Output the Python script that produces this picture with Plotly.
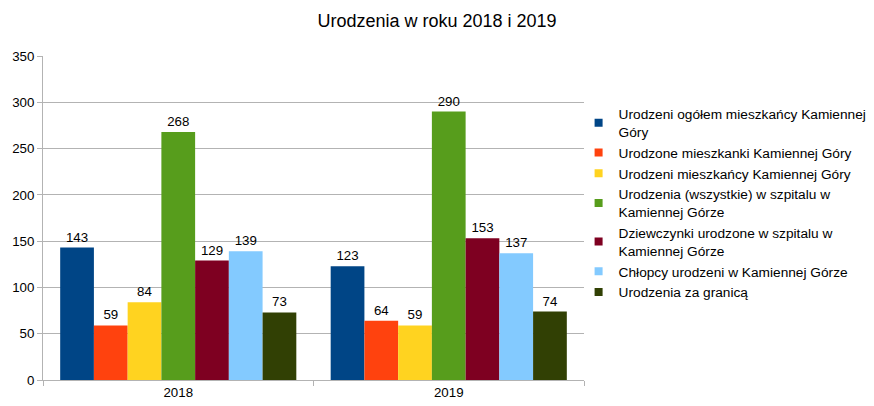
import plotly.graph_objects as go

years = ["2018", "2019"]
series_names = [
    "Urodzeni ogółem mieszkańcy Kamiennej<br>Góry",
    "Urodzone mieszkanki Kamiennej Góry",
    "Urodzeni mieszkańcy Kamiennej Góry",
    "Urodzenia (wszystkie) w szpitalu w<br>Kamiennej Górze",
    "Dziewczynki urodzone w szpitalu w<br>Kamiennej Górze",
    "Chłopcy urodzeni w Kamiennej Górze",
    "Urodzenia za granicą",
]
values = [
    [143, 123],
    [59, 64],
    [84, 59],
    [268, 290],
    [129, 153],
    [139, 137],
    [73, 74],
]
colors = ["#004586", "#ff420e", "#ffd320", "#579d1c", "#7e0021", "#83caff", "#314004"]

fig = go.Figure()
for name, vals, col in zip(series_names, values, colors):
    fig.add_trace(go.Bar(
        x=years, y=vals, name=name, marker_color=col, marker_line_width=0,
        text=[str(v) for v in vals], textposition="outside",
        textfont=dict(size=13.3, color="#000000"), cliponaxis=False,
        showlegend=False,
    ))
# legend-only entries with small square swatches
for name, col in zip(series_names, colors):
    fig.add_trace(go.Scatter(
        x=[None], y=[None], mode="markers", name=name,
        marker=dict(symbol="square", size=8, color=col), showlegend=True,
    ))

fig.update_layout(
    width=874, height=406,
    margin=dict(l=43, r=290, t=56, b=26, autoexpand=False),
    paper_bgcolor="white", plot_bgcolor="white",
    font=dict(family="Liberation Sans, Arial, sans-serif", size=13.3, color="#000000"),
    title=dict(text="Urodzenia w roku 2018 i 2019", x=0.5, xanchor="center",
               y=0.95, yanchor="middle",
               font=dict(size=18, color="#000000")),
    barmode="group", bargap=0.127, bargroupgap=0,
    showlegend=True,
    legend=dict(x=0.99, xanchor="left", y=0.545, yanchor="middle",
                font=dict(size=13.7, color="#000000"), itemwidth=30,
                tracegroupgap=0, bgcolor="rgba(0,0,0,0)", borderwidth=0),
)
fig.update_xaxes(showline=True, linecolor="#b3b3b3", tickson="boundaries",
                 ticks="outside", ticklen=5, tickcolor="#b3b3b3",
                 showgrid=False, tickfont=dict(size=13.3), automargin=False)
fig.update_yaxes(range=[0, 350], dtick=50, showgrid=True, gridcolor="#b3b3b3",
                 showline=True, linecolor="#b3b3b3", ticks="outside", ticklen=5,
                 tickcolor="#b3b3b3", zeroline=False, tickfont=dict(size=13.3),
                 automargin=False)

fig.write_html("out.html", config={"displayModeBar": False},
               post_script="document.body.style.margin='0';")
